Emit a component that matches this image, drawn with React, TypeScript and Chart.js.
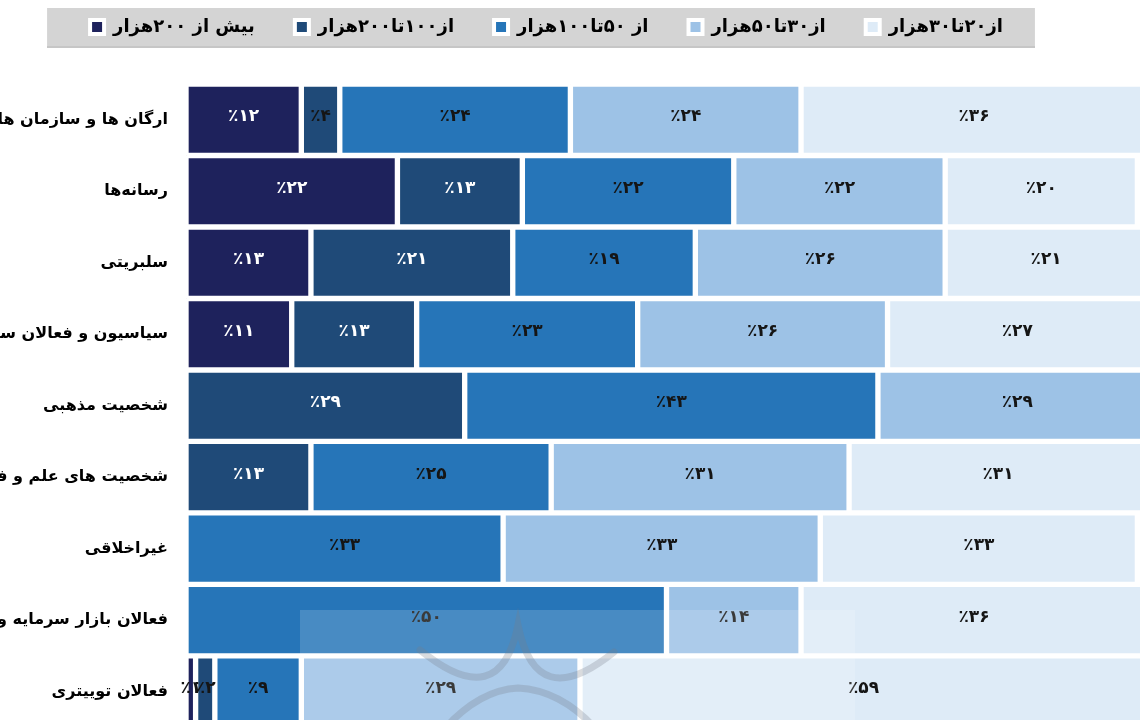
import React, { useEffect, useRef } from 'react';
import { Chart, registerables } from 'chart.js';

Chart.register(...registerables);

// ---------- data ----------
const categories = [
  'ارگان ها و سازمان ها',
  'رسانه‌ها',
  'سلبریتی',
  'سیاسیون و فعالان سیاسی',
  'شخصیت مذهبی',
  'شخصیت های علم و فرهنگ',
  'غیراخلاقی',
  'فعالان بازار سرمایه و اقتصاد',
  'فعالان توییتری',
];

const seriesNames = [
  'بیش از ۲۰۰هزار',
  'از۱۰۰تا۲۰۰هزار',
  'از ۵۰تا۱۰۰هزار',
  'از۳۰تا۵۰هزار',
  'از۲۰تا۳۰هزار',
];

const over200 = [12, 22, 13, 11, null, null, null, null, 1];
const from100to200 = [4, 13, 21, 13, 29, 13, null, null, 2];
const from50to100 = [24, 22, 19, 23, 43, 25, 33, 50, 9];
const from30to50 = [24, 22, 26, 26, 29, 31, 33, 14, 29];
const from20to30 = [36, 20, 21, 27, null, 31, 33, 36, 59];

const seriesValues = [over200, from100to200, from50to100, from30to50, from20to30];
const seriesColors = ['#1e225c', '#1f4a78', '#2675b8', '#9dc2e6', '#deebf7'];

const FONT = '"DejaVu Sans", sans-serif';

const toFa = (n: number) =>
  String(n).replace(/[0-9]/g, (d) => '۰۱۲۳۴۵۶۷۸۹'[Number(d)]);

// ---------- plugins ----------
const legendBackdrop = {
  id: 'legendBackdrop',
  beforeDraw(chart: any) {
    const lg = chart.legend;
    if (!lg || !lg.legendHitBoxes || !lg.legendHitBoxes.length) return;
    const hb = lg.legendHitBoxes;
    const first = hb[0];
    const last = hb[hb.length - 1];
    const ctx = chart.ctx;
    ctx.save();
    ctx.fillStyle = '#d4d4d4';
    const left = first.left - 43;
    const right = last.left + last.width + 32;
    ctx.fillRect(left, 8, right - left, 40);
    ctx.fillStyle = '#c6c6c6';
    ctx.fillRect(left, 46, right - left, 2);
    ctx.restore();
  },
};

const valueLabels = {
  id: 'valueLabels',
  afterDatasetsDraw(chart: any) {
    const ctx = chart.ctx;
    ctx.save();
    ctx.font = `bold 17px ${FONT}`;
    ctx.textAlign = 'center';
    ctx.textBaseline = 'middle';
    chart.data.datasets.forEach((ds: any, di: number) => {
      const meta = chart.getDatasetMeta(di);
      meta.data.forEach((bar: any, i: number) => {
        const v = ds.data[i];
        if (v == null) return;
        const p = bar.getProps(['x', 'base', 'y'], true);
        ctx.fillStyle = di < 2 && v >= 5 ? '#ffffff' : '#151515';
        ctx.fillText('٪' + toFa(v), (p.x + p.base) / 2, p.y - 3);
      });
    });
    ctx.restore();
  },
};

const watermark = {
  id: 'watermark',
  afterDraw(chart: any) {
    const ctx = chart.ctx;
    ctx.save();
    ctx.fillStyle = 'rgba(255,255,255,0.16)';
    ctx.fillRect(300, 610, 555, 120);
    ctx.strokeStyle = 'rgba(120,125,135,0.28)';
    ctx.lineWidth = 7;
    ctx.lineCap = 'round';
    ctx.beginPath();
    ctx.moveTo(420, 650);
    ctx.quadraticCurveTo(500, 715, 518, 625);
    ctx.quadraticCurveTo(536, 715, 614, 652);
    ctx.stroke();
    ctx.beginPath();
    ctx.moveTo(445, 728);
    ctx.quadraticCurveTo(480, 690, 518, 688);
    ctx.quadraticCurveTo(560, 690, 595, 728);
    ctx.stroke();
    ctx.restore();
  },
};

export default function App() {
  const canvasRef = useRef<HTMLCanvasElement | null>(null);

  useEffect(() => {
    if (!canvasRef.current) return;
    const chart = new Chart(canvasRef.current, {
      type: 'bar',
      data: {
        labels: categories,
        datasets: seriesValues.map((vals, i) => ({
          label: seriesNames[i],
          data: vals,
          backgroundColor: seriesColors[i],
          borderColor: '#ffffff',
          borderWidth: 3,
          borderSkipped: false,
          barPercentage: 1,
          categoryPercentage: 1,
        })),
      },
      options: {
        indexAxis: 'y',
        animation: false,
        responsive: false,
        maintainAspectRatio: false,
        devicePixelRatio: 1,
        events: [],
        layout: { padding: { left: -54, top: -22, right: 3, bottom: 2 } },
        scales: {
          x: {
            position: 'top',
            stacked: true,
            min: 0,
            max: 100,
            grid: { display: false, drawTicks: false },
            ticks: { display: false },
            border: { display: true, color: '#d9d9d9', width: 1 },
            afterFit: (s: any) => {
              s.height = 38;
            },
          },
          y: {
            stacked: true,
            grid: { display: false, drawTicks: false },
            border: { display: true, color: '#d9d9d9', width: 1 },
            ticks: {
              padding: 18,
              color: '#000000',
              font: { family: FONT, weight: 'bold', size: 16 },
            },
            afterFit: (s: any) => {
              s.width = 240;
            },
          },
        },
        plugins: {
          tooltip: { enabled: false },
          legend: {
            display: true,
            position: 'top',
            align: 'center',
            labels: {
              boxWidth: 14,
              boxHeight: 14,
              padding: 40,
              color: '#000000',
              font: { family: FONT, weight: 'bold', size: 18 },
              generateLabels: (c: any) =>
                Chart.defaults.plugins.legend.labels
                  .generateLabels(c)
                  .map((it: any) => ({ ...it, lineWidth: 4, strokeStyle: '#ffffff' })),
            },
          },
        },
      } as any,
      plugins: [legendBackdrop, valueLabels, watermark],
    });
    return () => chart.destroy();
  }, []);

  return (
    <div
      style={{
        position: 'absolute',
        left: 0,
        top: 0,
        width: 1140,
        height: 720,
        overflow: 'hidden',
        background: '#ffffff',
      }}
    >
      <canvas ref={canvasRef} width={1150} height={755} style={{ display: 'block' }} />
    </div>
  );
}
